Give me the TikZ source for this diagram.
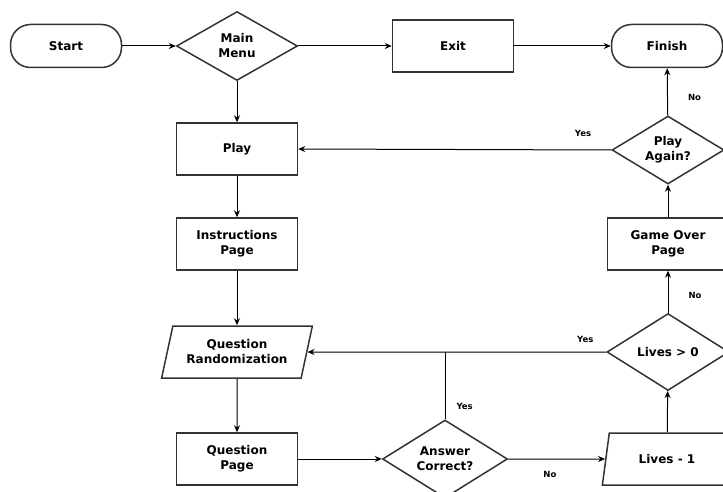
\documentclass[tikz,border=0pt]{standalone}
\usepackage{fontspec}
\setmainfont{DejaVu Sans}
\usetikzlibrary{positioning,arrows.meta,shapes.geometric}

\begin{document}
\begin{tikzpicture}[x=1pt,y=-1pt,>={Stealth[length=7pt,width=6pt]},
  every node/.style={font=\fontsize{12}{15}\selectfont\bfseries, align=center, inner sep=0pt},
  box/.style={draw=black!80, line width=1.5pt, rectangle, minimum width=121pt, minimum height=52pt},
  term/.style={draw=black!80, line width=1.5pt, rectangle, rounded corners=20pt, minimum width=111pt, minimum height=43pt},
  decide/.style={draw=black!80, line width=1.5pt, diamond, aspect=1.6},
  io/.style={draw=black!80, line width=1.5pt, trapezium, trapezium left angle=70, trapezium right angle=110,
    trapezium stretches=true, minimum height=52pt},
  link/.style={line width=1pt, black},
  lbl/.style={font=\fontsize{8.5}{10}\selectfont\bfseries, inner sep=1pt}]

\useasboundingbox (0,0) rectangle (723,492);

% top row
\node[term] (start) at (66,46) {Start};
\node[decide, minimum width=121pt, minimum height=69pt] (menu) at (237,46) {Main\\Menu};
\node[box] (exit) at (453,46) {Exit};
\node[term] (finish) at (667,46) {Finish};

% left column
\node[box] (play) at (237,149) {Play};
\node[box] (instr) at (237,244) {Instructions\\Page};
\node[io, minimum width=151pt] (qrand) at (237,352) {Question\\Randomization};
\node[box] (qpage) at (237,459) {Question\\Page};

% middle and right column
\node[decide, minimum width=125pt, minimum height=78pt] (answer) at (445,459) {Answer\\Correct?};
\node[io, minimum width=130pt] (minus) at (667,459) {Lives - 1};
\node[decide, minimum width=122pt, minimum height=77pt] (alive) at (668,352) {Lives > 0};
\node[box] (over) at (668,244) {Game Over\\Page};
\node[decide, minimum width=112pt, minimum height=68pt] (again) at (668,150) {Play\\Again?};

\coordinate (join) at (answer.north |- alive.west);

\draw[link,->] (start) -- (menu);
\draw[link,->] (menu) -- (exit);
\draw[link,->] (exit) -- (finish);
\draw[link,->] (menu) -- (play);
\draw[link,->] (play) -- (instr);
\draw[link,->] (instr) -- (qrand);
\draw[link,->] (qrand) -- (qpage);
\draw[link,->] (qpage) -- (answer);
\draw[link,->] (answer) -- node[lbl, pos=0.43, below=11pt] {No} (minus);
\draw[link,->] (minus) -- (alive);
\draw[link,->] (alive) -- node[lbl, pos=0.4, right=19pt] {No} (over);
\draw[link,->] (over) -- (again);
\draw[link,->] (again) -- node[lbl, pos=0.375, right=19pt] {No} (finish);
\draw[link,->] (again.west) -- node[lbl, pos=0.09, above=12pt] {Yes} (play.east);
\draw[link,->] (alive.west) -- node[lbl, pos=0.07, above=8pt] {Yes} (qrand.east);
\draw[link] (answer.north) -- node[lbl, pos=0.19, right=10pt] {Yes} (join);

\end{tikzpicture}
\end{document}
